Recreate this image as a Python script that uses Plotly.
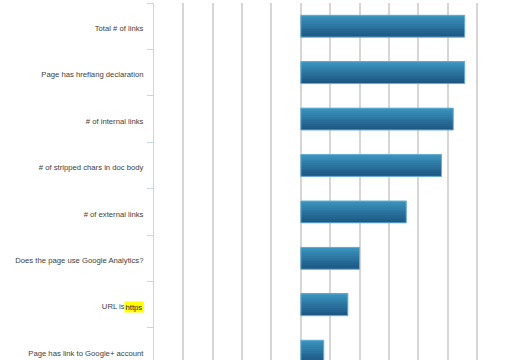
import plotly.graph_objects as go

categories = [
    "Total # of links",
    "Page has hreflang declaration",
    "# of internal links",
    "# of stripped chars in doc body",
    "# of external links",
    "Does the page use Google Analytics?",
    "URL is https",
    "Page has link to Google+ account",
]
values = [5.58, 5.58, 5.19, 4.79, 3.59, 2.0, 1.6, 0.78]

top_rgb = (58, 148, 191)
bot_rgb = (30, 88, 132)
n_strips = 12
bar_w = 0.47
FONT = "Liberation Sans, Arial, sans-serif"

fig = go.Figure()
for k in range(n_strips):
    t = k / (n_strips - 1)
    c = tuple(int(round(top_rgb[i] + (bot_rgb[i] - top_rgb[i]) * t)) for i in range(3))
    fig.add_trace(go.Bar(
        y=categories, x=values, orientation="h",
        width=bar_w / n_strips * 1.05,
        offset=-bar_w / 2 + k * bar_w / n_strips,
        marker=dict(color="rgb(%d,%d,%d)" % c, line=dict(width=0)),
        hoverinfo="skip", showlegend=False,
    ))
# outline
fig.add_trace(go.Bar(
    y=categories, x=values, orientation="h",
    width=bar_w, offset=-bar_w / 2,
    marker=dict(color="rgba(0,0,0,0)", line=dict(color="#6aaed4", width=1)),
    hoverinfo="skip", showlegend=False,
))

fig.update_layout(
    width=520, height=360,
    margin=dict(l=154, r=13, t=3, b=0, autoexpand=False),
    paper_bgcolor="white", plot_bgcolor="white",
    barmode="overlay",
    font=dict(family=FONT, size=7.7, color="#404040"),
    xaxis=dict(
        range=[-5, 7.02], dtick=1, tick0=0,
        showgrid=True, gridcolor="#d6d6d6", gridwidth=1.5,
        zeroline=True, zerolinecolor="#d6d6d6", zerolinewidth=1.5,
        showticklabels=False, ticks="", showline=False, fixedrange=True,
        automargin=False,
    ),
    yaxis=dict(
        type="category", categoryorder="array", categoryarray=categories,
        range=[7.19, -0.5], automargin=False,
        tickson="boundaries", ticks="outside", ticklen=6, tickcolor="#c8d7e6", tickwidth=1,
        ticklabelstandoff=8, ticklabelshift=-2,
        showline=True, linecolor="#c8d7e6", linewidth=1,
        showgrid=False, zeroline=False, fixedrange=True,
    ),
    annotations=[dict(
        text="https", xref="paper", yref="y", x=-10 / 353, y="URL is https",
        xanchor="right", yanchor="middle", showarrow=False, yshift=-2,
        bgcolor="#ffff00", borderpad=0.5,
        font=dict(family=FONT, size=7.7, color="#222222"),
    )],
)

fig.write_html("out.html")
